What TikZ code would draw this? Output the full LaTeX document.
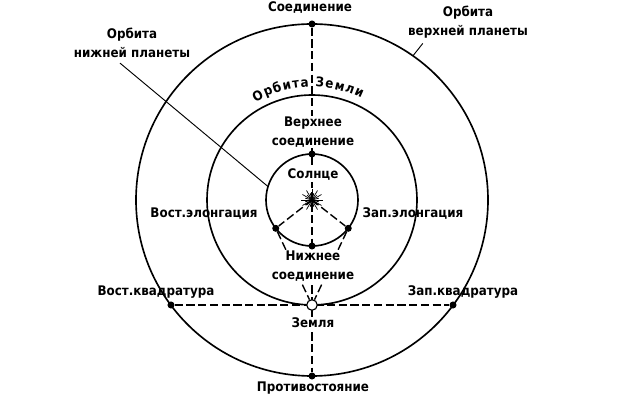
\documentclass[tikz,border=0pt]{standalone}
\usepackage{fontspec}
\setmainfont{DejaVu Sans Condensed}
\usetikzlibrary{calc,backgrounds,decorations.text}
\newcommand{\lblfont}{\fontsize{11.3}{16}\selectfont\bfseries}
\tikzset{
    orbit/.style={line width=1.4pt},
    guide/.style={line width=1.2pt, dash pattern=on 7pt off 3pt},
    leader/.style={line width=0.8pt},
    dot/.style={circle, fill=black, inner sep=0pt, minimum size=6pt},
    earth/.style={circle, draw=black, fill=white, line width=1pt, inner sep=0pt, minimum size=9pt},
    lbl/.style={font=\lblfont, inner sep=1pt, align=center},
    lblw/.style={lbl, fill=white}
}

\begin{document}
\begin{tikzpicture}[x=0.03cm, y=0.03cm]
    \useasboundingbox (0,0) rectangle (620,400);
    \coordinate (C) at (312,200);

    % Points on the orbits
    \node[dot] (oconj) at ($(C)+(90:176)$) {};
    \node[dot] (opp) at ($(C)+(-90:176)$) {};
    \node[dot] (equad) at ($(C)+(-141,-105)$) {};
    \node[dot] (wquad) at ($(C)+(141,-105)$) {};
    \node[dot] (supc) at ($(C)+(90:46)$) {};
    \node[dot] (infc) at ($(C)+(-90:46)$) {};
    \node[dot] (eelong) at ($(C)+(218:46)$) {};
    \node[dot] (welong) at ($(C)+(-38:46)$) {};
    \node[earth] (earth) at ($(C)+(-90:105)$) {};

    % Orbits and sight lines
    \begin{scope}[on background layer]
        \draw[orbit] (C) circle (46);
        \draw[orbit] (C) circle (105);
        \draw[orbit] (C) circle (176);
        \draw[guide] (oconj) -- (opp);
        \draw[guide] (equad) -- (wquad);
        \draw[guide] (C) -- (eelong);
        \draw[guide] (C) -- (welong);
        \draw[guide] (eelong) -- (earth);
        \draw[guide] (welong) -- (earth);
    \end{scope}

    % Sun
    \foreach \a [count=\i] in {0,15,...,345}
        \draw[line width=0.6pt] (C) -- ++(\a:{7+4*mod(\i,2)});

    % Labels
    \node[lbl] (conjl) at (310,392) {Соединение};
    \node[lbl] (upl) at (468,378) {Орбита\\верхней планеты};
    \node[lbl] (lpl) at (132,357) {Орбита\\нижней планеты};
    \node[lblw] (supl) at (313,268) {Верхнее\\соединение};
    \node[lblw] (sunl) at (313,225) {Солнце};
    \node[lbl] (eel) at (204,186) {Вост.элонгация};
    \node[lbl] (wel) at (413,186) {Зап.элонгация};
    \node[lblw] (infl) at (313,134) {Нижнее\\соединение};
    \node[lblw] (earthl) at (313,77) {Земля};
    \node[lbl] (eql) at (156,108) {Вост.квадратура};
    \node[lbl] (wql) at (463,108) {Зап.квадратура};
    \node[lbl] (oppl) at (313,12) {Противостояние};
    \path[decorate, decoration={text along path, text align=fit to path,
        text={|\lblfont|Орбита Земли}}]
        ($(C)+(120:113)$) arc[start angle=120, end angle=64, radius=113];

    % Leaders
    \coordinate (uplend) at ($(C)+(55:176)$);
    \coordinate (lplend) at ($(C)+(163:46)$);
    \draw[leader] ($(upl.south west)+(16,-4)$) -- (uplend);
    \draw[leader] ($(lpl.south)+(-12,-4)$) -- (lplend);
\end{tikzpicture}
\end{document}
